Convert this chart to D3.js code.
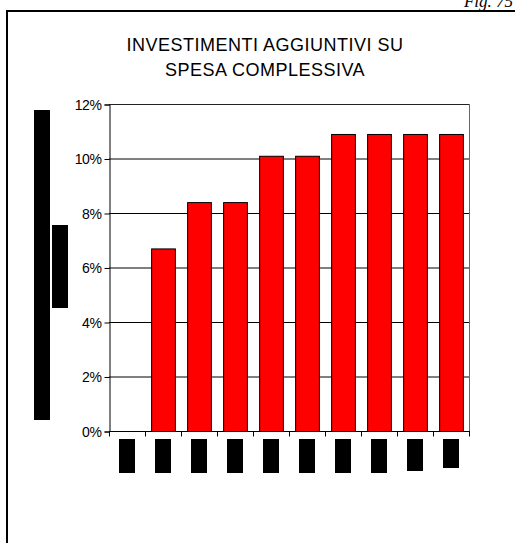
<!DOCTYPE html>
<html>
<head>
<meta charset="utf-8">
<script src="https://cdn.jsdelivr.net/npm/d3@7"></script>
<style>
  html, body { margin: 0; padding: 0; background: #fff; }
  svg { display: block; }
</style>
</head>
<body>
<svg id="chart" width="515" height="543"></svg>
<script>
// ---- data ----
const categories = ["c1","c2","c3","c4","c5","c6","c7","c8","c9","c10"];
const values = [null, 6.7, 8.4, 8.4, 10.1, 10.1, 10.9, 10.9, 10.9, 10.9];
const yTicks = [0, 2, 4, 6, 8, 10, 12];
const titleLines = ["INVESTIMENTI AGGIUNTIVI SU", "SPESA COMPLESSIVA"];
const figLabel = "Fig. 75";
const labelBoxBottoms = [473, 473, 473, 473, 473, 473, 473, 473, 471, 468];

const svg = d3.select("#chart");

// page frame lines
svg.append("line").attr("x1", 6).attr("x2", 515).attr("y1", 11).attr("y2", 11)
  .attr("stroke", "#000").attr("stroke-width", 2);
svg.append("line").attr("x1", 7).attr("x2", 7).attr("y1", 10).attr("y2", 543)
  .attr("stroke", "#000").attr("stroke-width", 2);

// Fig label (partially cut at top, as in reference)
svg.append("text").attr("x", 513).attr("y", 7).attr("text-anchor", "end")
  .attr("font-family", "'Liberation Serif', 'DejaVu Serif', serif")
  .attr("font-style", "italic").attr("font-size", 17)
  .text(figLabel);

// title
const title = svg.append("text")
  .attr("font-family", "'Liberation Sans', Arial, sans-serif")
  .attr("font-size", 18).attr("text-anchor", "middle")
  .attr("letter-spacing", 0.5).attr("fill", "#000");
titleLines.forEach((t, i) => {
  title.append("tspan").attr("x", 265).attr("y", 51 + i * 25).text(t);
});

const m = { left: 109, right: 469, top: 104, bottom: 431 };

const x = d3.scaleBand().domain(categories).range([m.left, m.right]).paddingInner(0.34).paddingOuter(0.17);
const xFull = d3.scaleBand().domain(categories).range([m.left, m.right]);
const y = d3.scaleLinear().domain([0, 12]).range([m.bottom, m.top]);

// gridlines
svg.append("g").selectAll("line").data(yTicks.filter(d => d > 0 && d < 12)).join("line")
  .attr("x1", m.left).attr("x2", m.right)
  .attr("y1", d => y(d) + 0.5).attr("y2", d => y(d) + 0.5)
  .attr("stroke", "#000").attr("stroke-width", 1);

// plot border (top, right)
svg.append("line").attr("x1", m.left).attr("x2", m.right).attr("y1", m.top + 0.5).attr("y2", m.top + 0.5)
  .attr("stroke", "#222").attr("stroke-width", 1);
svg.append("line").attr("x1", m.right + 0.5).attr("x2", m.right + 0.5).attr("y1", m.top).attr("y2", m.bottom)
  .attr("stroke", "#666").attr("stroke-width", 1);

// bars
svg.append("g").selectAll("rect").data(categories.map((c, i) => ({ c, v: values[i] })).filter(d => d.v != null)).join("rect")
  .attr("x", d => x(d.c) + 0.5)
  .attr("y", d => y(d.v) + 0.5)
  .attr("width", x.bandwidth())
  .attr("height", d => y(0) - y(d.v))
  .attr("fill", "#ff0000").attr("stroke", "#000").attr("stroke-width", 1);

// y axis
const yAxis = d3.axisLeft(y).tickValues(yTicks).tickSize(5).tickPadding(3)
  .tickFormat(d => d + "%");
const gy = svg.append("g").attr("transform", `translate(${m.left + 0.5},0.5)`).call(yAxis);
gy.select(".domain").attr("stroke", "#000");
gy.selectAll(".tick line").attr("stroke", "#000");
gy.selectAll("text").attr("font-family", "'Liberation Sans', Arial, sans-serif")
  .attr("font-size", 14).attr("letter-spacing", -0.4).attr("fill", "#000").attr("dy", "0.35em");

// x axis
const gx = svg.append("g").attr("transform", `translate(0,${m.bottom + 0.5})`);
gx.append("line").attr("x1", m.left).attr("x2", m.right + 1).attr("stroke", "#000");
const bounds = categories.map(c => xFull(c)).concat([m.right]);
gx.selectAll("line.tk").data(bounds).join("line").attr("class", "tk")
  .attr("x1", d => d + 0.5).attr("x2", d => d + 0.5).attr("y1", 0).attr("y2", 5)
  .attr("stroke", "#000");

// redacted category labels
svg.append("g").selectAll("rect").data(categories.map((c, i) => ({ c, b: labelBoxBottoms[i] }))).join("rect")
  .attr("x", d => xFull(d.c) + xFull.bandwidth() / 2 - 8)
  .attr("y", 439).attr("width", 16).attr("height", d => d.b - 439)
  .attr("fill", "#000");

// redacted y-axis title
svg.append("rect").attr("x", 34).attr("y", 110).attr("width", 16).attr("height", 310).attr("fill", "#000");
svg.append("rect").attr("x", 52).attr("y", 225).attr("width", 16).attr("height", 83).attr("fill", "#000");
</script>
</body>
</html>
